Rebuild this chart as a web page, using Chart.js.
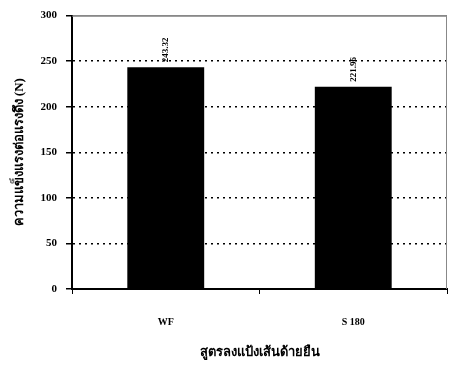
<!DOCTYPE html>
<html>
<head>
<meta charset="utf-8">
<script src="https://cdn.jsdelivr.net/npm/chart.js@4/dist/chart.umd.min.js"></script>
<style>
  body { margin: 0; background: #fff; }
  #wrap { width: 450px; height: 366px; }
</style>
</head>
<body>
<div id="wrap"><canvas id="chart" width="450" height="366"></canvas></div>
<script>
const categories = ['WF', 'S 180'];
const strength = [243.32, 221.96];
const strengthLabels = ['243.32', '221.96'];
const yTicks = [0, 50, 100, 150, 200, 250, 300];

const serif = '"Liberation Serif", "Times New Roman", serif';

// gray frame round the plot, like the original print
const frame = {
  id: 'frame',
  beforeDatasetsDraw(chart) {
    const {ctx, chartArea: a} = chart;
    ctx.save();
    ctx.strokeStyle = '#888';
    ctx.lineWidth = 1;
    ctx.beginPath();
    ctx.moveTo(a.left, a.top + 0.5);
    ctx.lineTo(a.right - 0.5, a.top + 0.5);
    ctx.lineTo(a.right - 0.5, a.bottom);
    ctx.stroke();
    ctx.restore();
  }
};

// vertical value labels above the bars
const valueLabels = {
  id: 'valueLabels',
  afterDatasetsDraw(chart) {
    const {ctx} = chart;
    const meta = chart.getDatasetMeta(0);
    ctx.save();
    ctx.fillStyle = '#000';
    ctx.font = 'bold 9px ' + serif;
    ctx.textAlign = 'left';
    ctx.textBaseline = 'middle';
    meta.data.forEach((bar, i) => {
      ctx.save();
      ctx.translate(bar.x, bar.y - 5);
      ctx.rotate(-Math.PI / 2);
      ctx.fillText(strengthLabels[i], 0, 0);
      ctx.restore();
    });
    ctx.restore();
  }
};

new Chart(document.getElementById('chart'), {
  type: 'bar',
  data: {
    labels: categories,
    datasets: [{
      data: strength,
      backgroundColor: '#000',
      borderWidth: 0,
      barPercentage: 0.41,
      categoryPercentage: 1
    }]
  },
  options: {
    responsive: false,
    animation: false,
    layout: { padding: { top: 11, right: 3, left: 0, bottom: 0 } },
    plugins: { legend: { display: false }, tooltip: { enabled: false } },
    scales: {
      x: {
        afterFit(s) { s.height = 77; },
        grid: {
          offset: true,
          drawOnChartArea: false,
          drawTicks: true,
          tickLength: 5,
          tickColor: '#000',
          tickWidth: 1
        },
        border: { display: true, color: '#000', width: 2 },
        ticks: {
          color: '#000',
          padding: 22,
          font: { family: serif, size: 10, weight: 'bold' }
        },
        title: {
          display: true,
          text: 'สูตรลงแป้งเส้นด้ายยืน',
          color: '#000',
          font: { family: serif, size: 13, weight: 'bold' },
          padding: { top: 0, bottom: 6 }
        }
      },
      y: {
        min: 0,
        max: 300,
        afterFit(s) { s.width = 72; },
        afterBuildTicks(s) { s.ticks = yTicks.map(v => ({ value: v })); },
        grid: {
          color: c => (c.tick && c.tick.value === 300 ? '#888' : '#000'),
          lineWidth: 1.5,
          drawTicks: true,
          tickLength: 6,
          tickColor: '#000',
          tickWidth: 1.5,
          tickBorderDash: []
        },
        border: {
          display: true,
          color: '#000',
          width: 2,
          dash: c => (c.tick && c.tick.value === 300 ? [] : [2, 4])
        },
        ticks: {
          color: '#000',
          padding: 9,
          font: { family: serif, size: 11, weight: 'bold' }
        },
        title: {
          display: true,
          text: 'ความแข็งแรงต่อแรงดึง (N)',
          color: '#000',
          font: { family: serif, size: 13, weight: 'bold' },
          padding: { top: 12, bottom: 0 }
        }
      }
    }
  },
  plugins: [frame, valueLabels]
});
</script>
</body>
</html>
